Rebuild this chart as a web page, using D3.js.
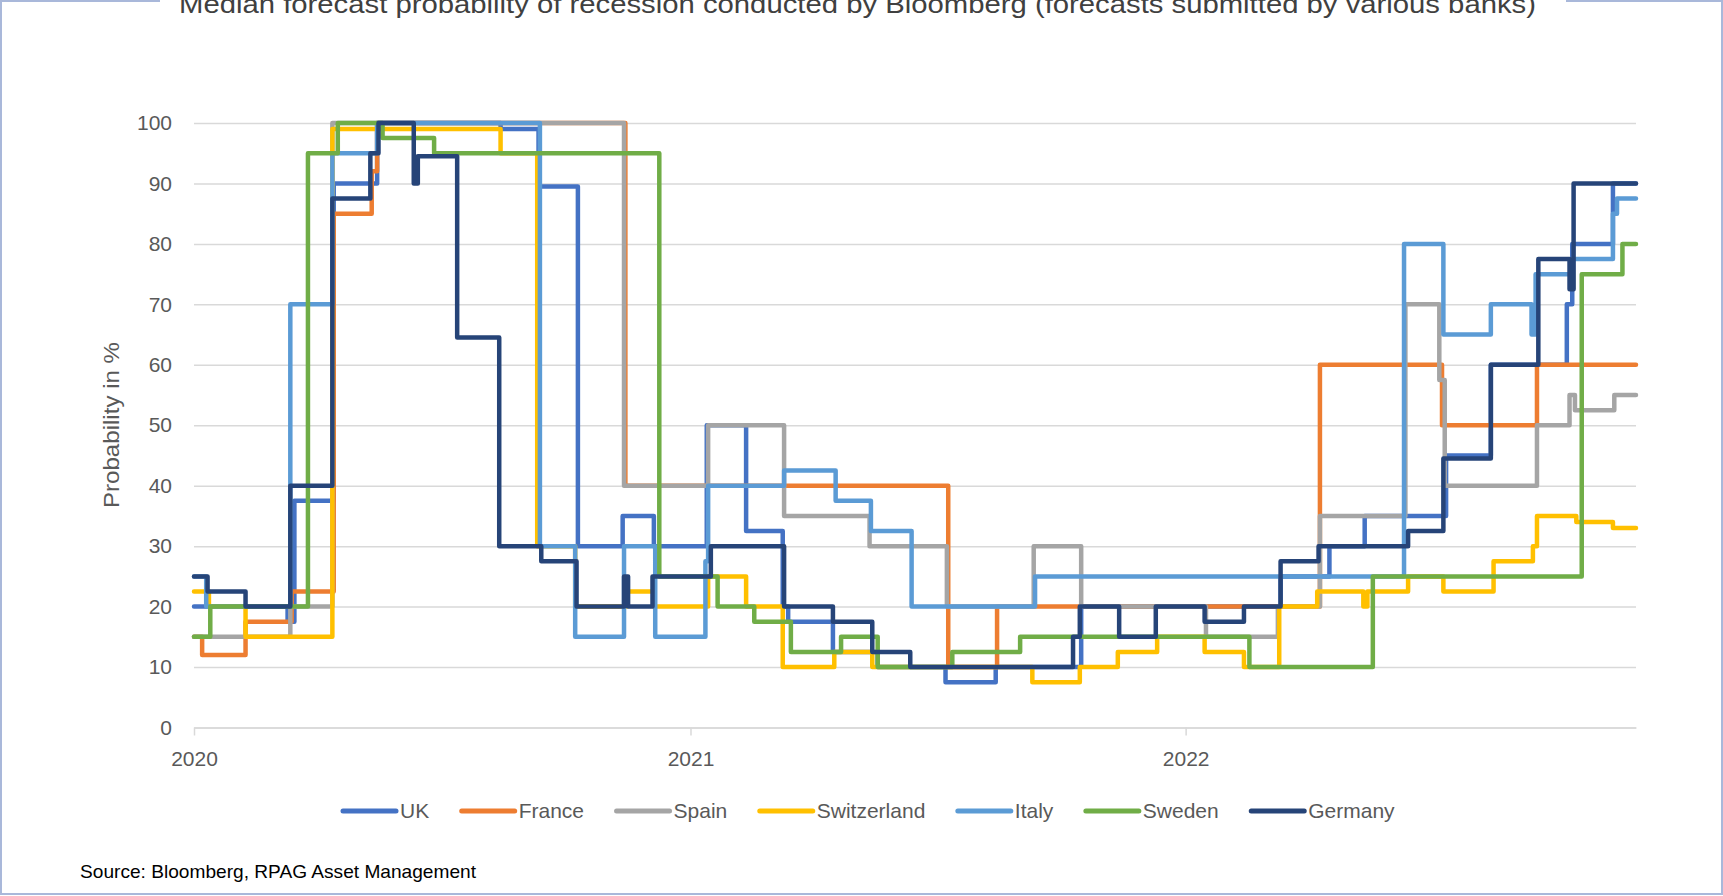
<!DOCTYPE html>
<html><head><meta charset="utf-8">
<script src="https://cdn.jsdelivr.net/npm/d3@7"></script>
<style>
body{margin:0;background:#fff;}
svg{display:block;}
text{font-family:"Liberation Sans",Arial,sans-serif;}
</style>
</head><body>
<svg id="chart" width="1723" height="896"></svg>
<script>
const titleText = "Median forecast probability of recession conducted by Bloomberg (forecasts submitted by various banks)";
const yAxisTitle = "Probability in %";
const sourceText = "Source: Bloomberg, RPAG Asset Management";
const countries = ["UK","France","Spain","Switzerland","Italy","Sweden","Germany"];
const colors = ["#4472C4","#ED7D31","#A5A5A5","#FFC000","#5B9BD5","#70AD47","#264478"];
const yTickValues = [0,10,20,30,40,50,60,70,80,90,100];
const xTickDates = ["2020-01-01","2021-01-01","2022-01-01"];
const xTickLabels = ["2020","2021","2022"];
const startDate = "2020-01-01";
const endDate = "2022-11-29";

// step data: [date the value starts, value]
const ukSteps = [["2020-01-01",20],["2020-03-10",17.5],["2020-03-15",37.5],["2020-04-13",90],["2020-05-15",100],["2020-08-14",99],["2020-09-11",89.5],["2020-10-10",30],["2020-11-12",35],["2020-12-05",30],["2021-01-13",50],["2021-02-11",32.5],["2021-03-10",20],["2021-03-14",17.5],["2021-04-16",12.5],["2021-05-19",10],["2021-07-08",7.5],["2021-08-14",10],["2021-10-16",20],["2022-03-12",25],["2022-04-17",30],["2022-05-13",35],["2022-07-12",45],["2022-08-14",60],["2022-10-09",70],["2022-10-13",80],["2022-11-12",90]];
const franceSteps = [["2020-01-01",15],["2020-01-07",12],["2020-02-08",17.5],["2020-03-13",22.5],["2020-04-13",85],["2020-05-11",92],["2020-05-15",100],["2020-11-14",40],["2021-07-10",10],["2021-08-15",20],["2022-04-10",60],["2022-07-09",50],["2022-09-17",60]];
const spainSteps = [["2020-01-01",15],["2020-03-12",20],["2020-04-12",100],["2020-11-13",40],["2021-01-14",50],["2021-03-11",35],["2021-05-13",30],["2021-07-09",20],["2021-09-11",30],["2021-10-16",20],["2022-01-16",15],["2022-03-10",20],["2022-04-10",35],["2022-06-12",70],["2022-07-07",57.5],["2022-07-11",40],["2022-09-17",50],["2022-10-11",55],["2022-10-15",52.5],["2022-11-13",55]];
const switzerlandSteps = [["2020-01-01",22.5],["2020-01-12",20],["2020-02-08",15],["2020-04-12",99],["2020-08-14",95],["2020-09-10",30],["2020-10-08",20],["2020-11-15",22.5],["2020-12-05",20],["2021-01-14",25],["2021-02-11",20],["2021-03-10",10],["2021-04-17",12.5],["2021-05-15",10],["2021-09-10",7.5],["2021-10-15",10],["2021-11-12",12.5],["2021-12-11",15],["2022-01-15",12.5],["2022-02-13",10],["2022-03-11",20],["2022-04-08",22.5],["2022-05-12",20],["2022-05-15",22.5],["2022-06-14",25],["2022-07-10",22.5],["2022-08-16",27.5],["2022-09-14",30],["2022-09-17",35],["2022-10-16",34],["2022-11-12",33]];
const italySteps = [["2020-01-01",25],["2020-01-10",20],["2020-03-12",70],["2020-04-12",95],["2020-05-15",100],["2020-09-12",30],["2020-10-08",15],["2020-11-13",30],["2020-12-06",15],["2021-01-12",27.5],["2021-01-14",40],["2021-03-11",42.5],["2021-04-18",37.5],["2021-05-14",32.5],["2021-06-13",20],["2021-09-12",25],["2022-06-11",80],["2022-07-10",65],["2022-08-14",70],["2022-09-13",65],["2022-09-16",75],["2022-10-13",77.5],["2022-11-12",85],["2022-11-15",87.5]];
const swedenSteps = [["2020-01-01",15],["2020-01-13",20],["2020-03-25",95],["2020-04-16",100],["2020-05-19",97.5],["2020-06-26",95],["2020-12-09",25],["2021-01-21",20],["2021-02-17",17.5],["2021-03-16",12.5],["2021-04-22",15],["2021-05-19",10],["2021-07-13",12.5],["2021-09-01",15],["2022-02-17",10],["2022-05-19",25],["2022-10-20",75],["2022-11-19",80]];
const germanySteps = [["2020-01-01",25],["2020-01-11",22.5],["2020-02-08",20],["2020-03-12",40],["2020-04-12",87.5],["2020-05-10",95],["2020-05-16",100],["2020-06-11",90],["2020-06-14",94.5],["2020-07-13",64.5],["2020-08-13",30],["2020-09-13",27.5],["2020-10-09",20],["2020-11-13",25],["2020-11-16",20],["2020-12-04",25],["2021-01-16",30],["2021-03-11",20],["2021-04-16",17.5],["2021-05-15",12.5],["2021-06-12",10],["2021-10-10",15],["2021-10-15",20],["2021-11-13",15],["2021-12-10",20],["2022-01-15",17.5],["2022-02-13",20],["2022-03-12",27.5],["2022-04-09",30],["2022-06-14",32.5],["2022-07-10",44.5],["2022-08-14",60],["2022-09-18",77.5],["2022-10-11",72.5],["2022-10-14",90]];
const seriesSteps = [ukSteps, franceSteps, spainSteps, switzerlandSteps, italySteps, swedenSteps, germanySteps];

const FONT = "'Liberation Sans', Arial, sans-serif";
const svg = d3.select("#chart");
const parse = d3.utcParse("%Y-%m-%d");

// frame
svg.append("rect").attr("x",1).attr("y",1).attr("width",1721).attr("height",893)
  .attr("fill","#fff").attr("stroke","#a9b8da").attr("stroke-width",2);
svg.append("rect").attr("x",160).attr("y",0).attr("width",1406).attr("height",24).attr("fill","#fff");
svg.append("text").attr("x",179).attr("y",13).attr("font-size",26).attr("fill","#404040")
  .attr("textLength",1357).attr("lengthAdjust","spacingAndGlyphs").text(titleText);

const x = d3.scaleUtc().domain([parse(startDate), parse(endDate)]).range([194,1636]);
const y = d3.scaleLinear().domain([0,100]).range([727.5,123]);

// y grid and labels
const gy = svg.append("g").attr("transform","translate(194,0)")
  .call(d3.axisLeft(y).tickValues(yTickValues).tickSize(-(1636-194)).tickPadding(22));
gy.attr("font-size",21).attr("font-family",FONT);
gy.select(".domain").remove();
gy.selectAll(".tick line").attr("stroke","#d9d9d9").attr("stroke-width",1.5);
gy.selectAll(".tick text").attr("fill","#595959");

// x axis
const gx = svg.append("g").attr("transform","translate(0,727.5)")
  .call(d3.axisBottom(x).tickValues(xTickDates.map(parse)).tickFormat((d,i)=>xTickLabels[i]).tickSize(8).tickSizeOuter(0));
gx.attr("font-size",21).attr("font-family",FONT);
gx.select(".domain").attr("stroke","#d9d9d9").attr("stroke-width",1.5);
gx.selectAll(".tick line").attr("stroke","#d9d9d9").attr("stroke-width",1.5);
gx.selectAll(".tick text").attr("fill","#595959").attr("y",38.5).attr("dy",null);

// y axis title
svg.append("text").attr("transform","translate(111,425) rotate(-90)")
  .attr("text-anchor","middle").attr("dominant-baseline","central")
  .attr("font-size",22).attr("fill","#595959")
  .attr("textLength",166).attr("lengthAdjust","spacingAndGlyphs").text(yAxisTitle);

// series
const line = d3.line().x(d=>x(d.date)).y(d=>y(d.v)).curve(d3.curveStepAfter);
seriesSteps.forEach((steps,i)=>{
  const pts = steps.map(([d,v])=>({date:parse(d), v}));
  pts.push({date:parse(endDate), v:steps[steps.length-1][1]});
  svg.append("path").datum(pts).attr("d",line)
    .attr("fill","none").attr("stroke",colors[i]).attr("stroke-width",4.5)
    .attr("stroke-linejoin","round").attr("stroke-linecap","round");
});

// legend
const lg = svg.append("g");
let cx = 343;
countries.forEach((c,i)=>{
  lg.append("line").attr("x1",cx).attr("x2",cx+53).attr("y1",811).attr("y2",811)
    .attr("stroke",colors[i]).attr("stroke-width",5).attr("stroke-linecap","round");
  const t = lg.append("text").attr("x",cx+57).attr("y",818).attr("font-size",21)
    .attr("fill","#595959").text(c);
  cx = cx + 57 + t.node().getComputedTextLength() + 32.5;
});

// source
svg.append("text").attr("x",80).attr("y",878).attr("font-size",19).attr("fill","#000")
  .attr("textLength",396).attr("lengthAdjust","spacingAndGlyphs").text(sourceText);
</script>
</body></html>
